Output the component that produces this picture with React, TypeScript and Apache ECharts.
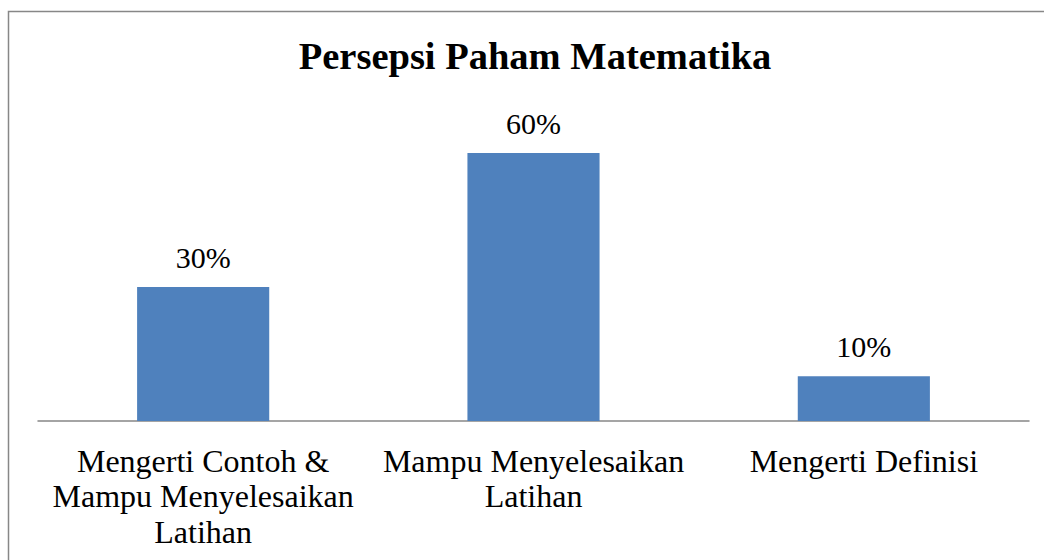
import React, { useEffect, useRef } from "react";
import * as echarts from "echarts";

const categories = [
  "Mengerti Contoh &\nMampu Menyelesaikan\nLatihan",
  "Mampu Menyelesaikan\nLatihan",
  "Mengerti Definisi",
];
const values = [0.3, 0.6, 0.1];
const titleText = "Persepsi Paham Matematika";

const FONT = "'Liberation Serif', 'Times New Roman', serif";

export default function App() {
  const ref = useRef<HTMLDivElement>(null);
  useEffect(() => {
    if (!ref.current) return;
    const chart = echarts.init(ref.current, undefined, { renderer: "svg" });
    chart.setOption({
      animation: false,
      backgroundColor: "#ffffff",
      title: {
        text: titleText,
        left: 530,
        textAlign: "center",
        top: 31,
        textStyle: { fontFamily: FONT, fontWeight: "bold", fontSize: 38.5, color: "#000" },
      },
      graphic: [
        {
          type: "rect",
          shape: { x: 8.5, y: 11.5, width: 1100, height: 600 },
          style: { fill: "none", stroke: "#878787", lineWidth: 1.5 },
          silent: true,
        },
      ],
      grid: { left: 38, right: 15, top: 153, bottom: 139 },
      xAxis: {
        type: "category",
        data: categories,
        axisLine: { show: true, lineStyle: { color: "#878787", width: 1.5 } },
        axisTick: { show: false },
        axisLabel: {
          interval: 0,
          margin: 22,
          fontFamily: FONT,
          fontSize: 32,
          lineHeight: 35.5,
          color: "#000",
          align: "center",
        },
      },
      yAxis: {
        type: "value",
        min: 0,
        max: 0.6,
        show: false,
        splitLine: { show: false },
      },
      series: [
        {
          type: "bar",
          data: values,
          barWidth: "40%",
          itemStyle: { color: "#4F81BD" },
          label: {
            show: true,
            position: "top",
            distance: 15,
            fontFamily: FONT,
            fontSize: 30,
            color: "#000",
            formatter: (p: any) => Math.round(p.value * 100) + "%",
          },
        },
      ],
    });
    return () => chart.dispose();
  }, []);
  return (
    <div
      ref={ref}
      style={{ position: "fixed", left: 0, top: 0, width: 1044, height: 560, background: "#fff" }}
    />
  );
}
